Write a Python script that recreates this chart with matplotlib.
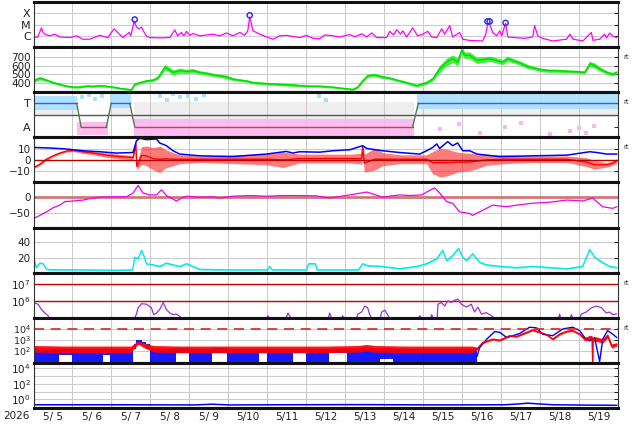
import numpy as np
import matplotlib
matplotlib.use('Agg')
import matplotlib.pyplot as plt
from matplotlib.ticker import FixedLocator, NullLocator, FixedFormatter

plt.rcParams['font.family'] = ['DejaVu Sans']

# time axis: hours since 2026-05-05 00:00
day_labels = ['5/ 5', '5/ 6', '5/ 7', '5/ 8', '5/ 9', '5/10', '5/11', '5/12',
              '5/13', '5/14', '5/15', '5/16', '5/17', '5/18', '5/19']

# --- X-ray flux (W/m2)
xray_t = [0, 2.6, 4.9, 5.7, 7.0, 10.0, 13.1, 16.2, 22.3, 26.6,
          30.3, 34.6, 40.8, 45.7, 49.6, 51.9, 55.0, 58.8, 59.9, 62.0,
          63.0, 64.4, 66.5, 67.9, 69.5, 71.6, 77.7, 83.9, 87.0, 88.8,
          91.1, 92.5, 94.2, 96.2, 98.2, 102.3, 110.5, 114.6, 118.8, 122.8,
          127.0, 130.0, 131.9, 133.1, 135.1, 139.3, 143.4, 147.5, 151.6, 155.7,
          163.9, 168.0, 172.1, 176.2, 179.3, 182.3, 188.5, 194.7, 197.7, 202.0,
          205.1, 208.2, 211.3, 217.4, 219.3, 221.7, 223.6, 226.0, 227.3, 229.7,
          233.4, 236.5, 239.6, 242.7, 245.1, 248.2, 251.3, 253.1, 256.2, 258.0,
          262.3, 264.2, 268.5, 276.5, 278.4, 279.6, 280.8, 282.7, 285.1, 287.0,
          288.2, 290.6, 292.0, 296.1, 302.3, 307.3, 308.5, 310.4, 313.4, 319.6,
          328.1, 330.2, 332.2, 338.2, 343.4, 344.4, 348.5, 351.6, 352.8, 354.7,
          356.4, 358.9]
xray_f = [8e-7, 7.5e-7, 5.0e-6, 2.3e-6, 1.4e-6, 1.0e-6, 1.4e-6, 8e-7, 7e-7, 1e-6,
          5e-7, 5e-7, 1.1e-6, 7e-7, 4.2e-6, 1.9e-6, 7e-7, 2e-6, 1e-6, 2.0e-5,
          8e-6, 4.2e-6, 5.8e-6, 2.3e-6, 1e-6, 7e-7, 6.6e-7, 7e-7, 3.3e-6, 1e-6,
          2e-6, 1e-6, 2.5e-6, 1.1e-6, 1.6e-6, 1e-6, 1.4e-6, 1e-6, 1.8e-6, 1e-6,
          2e-6, 1.1e-6, 2.8e-6, 4.6e-5, 2.8e-6, 1.4e-6, 8e-7, 5e-7, 1e-6, 1.1e-6,
          7e-7, 1.1e-6, 6e-7, 5.6e-7, 1.2e-6, 1.1e-6, 8e-7, 1.3e-6, 8e-7, 1.5e-6,
          8e-7, 1.8e-6, 7e-7, 7e-7, 2.5e-6, 1.2e-6, 3.5e-6, 1.4e-6, 2.8e-6, 8e-7,
          5e-6, 1e-6, 1.4e-6, 2.5e-6, 8e-7, 7e-7, 4.2e-6, 1.4e-6, 8e-6, 8e-7,
          2e-6, 5e-7, 3.9e-7, 3.5e-7, 1.4e-6, 1.15e-5, 1e-5, 2e-6, 1e-6, 2.8e-6,
          1e-6, 1.3e-5, 8e-7, 7e-7, 6e-7, 8e-7, 8e-6, 1e-6, 6e-7, 3.5e-7,
          5e-7, 1.4e-6, 5e-7, 3.5e-7, 2e-6, 4e-7, 5e-7, 1.4e-6, 6.6e-7, 1.8e-6,
          1e-6, 7e-7]
flare_t = [62.3, 133.1, 279.4, 280.8, 290.6]
flare_f = [2.8e-5, 6.6e-5, 1.9e-5, 1.9e-5, 1.4e-5]

# --- solar wind speed (km/s), with spread of the noisy trace
speed_t = [0, 3.9, 8.0, 12.1, 16.2, 20.3, 24.4, 28.5, 32.6, 36.7,
           40.8, 44.9, 49.0, 53.1, 57.2, 60.3, 62.3, 65.4, 69.5, 73.6,
           76.7, 78.8, 80.8, 82.8, 85.9, 90.0, 94.2, 98.2, 102.3, 106.5,
           110.5, 114.6, 118.8, 122.8, 127.0, 131.1, 135.1, 143.4, 151.6, 159.8,
           168.0, 176.2, 184.2, 190.3, 196.5, 199.6, 202.6, 205.7, 210.0, 214.3,
           219.3, 223.6, 229.7, 235.9, 242.0, 245.7, 250.0, 254.3, 258.0, 261.1,
           263.6, 265.4, 268.5, 273.0, 276.5, 280.8, 285.1, 288.8, 291.9, 296.1,
           300.5, 304.2, 308.5, 312.8, 317.7, 322.7, 328.3, 334.4, 339.3, 342.4,
           345.4, 348.5, 352.8, 356.5, 359.0]
speed_v = [420, 453, 429, 400, 380, 360, 348, 348, 360, 357,
           364, 357, 348, 333, 324, 316, 380, 400, 420, 429,
           460, 520, 580, 561, 520, 540, 532, 540, 520, 508,
           492, 480, 468, 441, 429, 420, 400, 388, 380, 372,
           360, 358, 348, 333, 320, 348, 420, 480, 492, 468,
           453, 429, 400, 365, 400, 441, 561, 640, 680, 640,
           780, 720, 720, 660, 668, 680, 660, 640, 680, 652,
           621, 588, 568, 549, 540, 540, 532, 528, 520, 621,
           600, 561, 520, 500, 520]
speed_s = [20, 20, 15, 15, 12, 12, 12, 12, 12, 12,
           12, 12, 12, 12, 12, 12, 15, 15, 15, 15,
           20, 30, 35, 30, 30, 30, 25, 25, 20, 20,
           20, 20, 20, 18, 15, 15, 15, 15, 15, 15,
           12, 12, 12, 12, 12, 15, 20, 20, 18, 18,
           15, 15, 15, 15, 20, 25, 40, 45, 45, 45,
           40, 40, 40, 35, 35, 30, 30, 30, 30, 25,
           25, 25, 20, 20, 20, 18, 18, 18, 18, 30,
           30, 25, 20, 20, 20]

# --- IMF sector (T = +1, A = -1)
sector_t = [0, 26.6, 29.3, 44.9, 47.8, 59.3, 62.3, 233.4, 236.9, 359.5]
sector_v = [1, 1, -1, -1, 1, 1, -1, -1, 1, 1]
toward_t0 = [0, 47, 236]
toward_t1 = [27, 60, 359.5]
toward_lo = [0.45, 0.6, 0.5]
toward_hi = [1.6, 1.8, 1.85]
away_t0 = [27, 62]
away_t1 = [46, 234]
away_lo = [-1.7, -1.75]
away_hi = [-0.55, -0.35]
mixed_t0 = [0, 47, 62, 236]
mixed_t1 = [27, 60, 234, 359.5]
mixed_lo = [0.0, 0.0, -0.6, -0.2]
mixed_hi = [0.6, 0.9, 1.1, 0.8]
lbdot_t = [30, 34, 38, 42, 78, 82, 86, 90, 95, 100, 105, 176, 180]
lbdot_v = [1.5, 1.7, 1.4, 1.6, 1.6, 1.3, 1.8, 1.5, 1.6, 1.4, 1.7, 1.6, 1.3]
pkdot_t = [250, 262, 275, 290, 300, 318, 330, 336, 340, 345]
pkdot_v = [-1.2, -0.8, -1.5, -1.0, -0.7, -1.6, -1.4, -1.1, -1.5, -0.9]

# --- IMF Bt / Bz (nT)
bt_t = [0, 10.0, 20.3, 30.5, 40.8, 51.1, 61.3, 63.4, 65.4, 69.5,
        75.7, 77.7, 81.8, 85.9, 90.0, 102.3, 122.7, 143.4, 155.7, 159.6,
        163.9, 176.2, 184.2, 194.7, 202.6, 205.1, 214.9, 225.4, 237.8, 242.0,
        245.7, 248.2, 250.0, 255.0, 258.0, 261.1, 264.2, 268.5, 273.0, 279.0,
        287.0, 307.3, 328.3, 342.4, 346.7, 352.8, 359.0]
bt_v = [11.3, 10.8, 9.9, 8.3, 7.4, 6.2, 6.7, 17.5, 19.6, 18.4,
        19.0, 15.4, 12.9, 8.3, 5.3, 3.7, 3.0, 5.3, 7.7, 6.2,
        7.4, 7.0, 8.3, 9.2, 12.9, 10.4, 8.3, 6.7, 5.3, 8.3,
        11.3, 14.5, 10.4, 16.6, 12.9, 15.4, 8.3, 8.3, 5.3, 4.3,
        3.0, 3.7, 4.3, 7.4, 6.7, 5.3, 5.3]
bz_t = [0, 3.9, 8.0, 12.1, 16.2, 20.3, 24.4, 30.5, 36.7, 44.9,
        53.1, 61.3, 63.0, 63.6, 66.5, 69.5, 73.6, 77.7, 81.8, 85.9,
        90.0, 102.3, 122.8, 143.4, 153.6, 163.9, 176.2, 194.7, 202.0, 202.6,
        203.6, 210.0, 214.9, 225.4, 242.0, 245.7, 250.0, 255.0, 261.1, 268.5,
        279.0, 290.0, 307.3, 328.3, 340.3, 345.4, 352.8, 356.5, 359.0]
bz_v = [-7.1, -4, 0.6, 3.7, 6.2, 8.0, 8.6, 7.4, 6.2, 4.3,
        3.0, 2.1, 14, -6, 4, 3.7, 1, 0.6, 1, 0.6,
        0.6, 0.6, 0.6, 0.6, 0, 1.2, 1.2, 1.2, 1, 12,
        -3, 0.6, 0.6, 0.6, 0.6, -2.5, -2.5, -2.5, -2, -2,
        0, 0.6, 0.6, 0.6, -2, -4.5, -4.5, -3, -1]
bz_s = [1, 1, 1, 1, 1, 1, 1, 1.5, 1.5, 2,
        2, 2, 2, 3, 8, 9, 10, 12, 8, 6,
        4, 3, 4, 5, 7, 4, 4, 4, 5, 3,
        8, 10, 6, 4, 4, 10, 13, 12, 9, 8,
        5, 4, 3, 3, 4, 4, 2, 2, 2]

# --- Dst (nT)
dst_t = [0, 3.9, 8.0, 12.1, 16.2, 19.3, 24.4, 30.5, 36.7, 40.8,
         49.0, 57.2, 61.3, 64.4, 67.4, 71.6, 75.7, 78.8, 81.8, 84.9,
         88.0, 91.1, 94.2, 102.3, 110.3, 114.6, 122.8, 133.1, 143.4, 153.6,
         163.9, 174.2, 182.3, 194.7, 205.1, 213.1, 214.9, 225.4, 231.6, 239.0,
         242.7, 247.0, 250.0, 254.3, 258.0, 262.3, 268.5, 270.3, 276.5, 282.7,
         291.3, 297.4, 307.3, 317.7, 328.3, 338.0, 344.2, 350.4, 356.5, 359.0]
dst_v = [-69, -59, -48, -35, -27, -16, -14, -11, -5, -2,
         -1, -1, 11, 35, 11, 5, 5, 21, 3, -5,
         -14, -5, 1, -2, -1, -5, 1, 3, 1, 3,
         3, 2, -5, 5, 14, 1, -2, 5, 3, 5,
         16, 27, 11, -16, -21, -48, -53, -59, -43, -27,
         -32, -27, -21, -18, -11, -14, -5, -32, -37, -32]

# --- cyan index (0-60)
cy_t = [0, 0.6, 1.6, 3.9, 5.9, 8.0, 12.1, 30, 50, 61.0,
        62.3, 64.4, 66.5, 67.9, 69.5, 73.6, 77.7, 81.8, 85.9, 90.0,
        94.2, 98.2, 102.3, 120, 144.0, 145.4, 147.0, 168, 169.5, 173.5,
        174.5, 200, 202.6, 205.7, 214.9, 225.4, 235.9, 242.0, 248.2, 251.9,
        254.3, 258.0, 261.7, 264.2, 266.5, 270.3, 274.6, 279.0, 287.0, 297.4,
        307.3, 317.7, 328.3, 338.0, 342.4, 345.4, 348.5, 351.6, 354.7, 359.0]
cy_v = [27.5, 16.4, 7.5, 13.3, 12.5, 5.3, 4.7, 4.5, 4.0, 4.5,
        20.8, 19, 29.7, 23, 12.5, 11, 9, 13.3, 11, 9,
        12.5, 9, 5.3, 4.5, 4.5, 9, 4.5, 4.5, 12.5, 12.5,
        4.5, 4.5, 12.5, 10, 9, 6, 9, 12.5, 19, 29.7,
        16.4, 23, 32, 20.8, 16.4, 25.3, 14.2, 11, 9, 7.5,
        9, 7.5, 6, 9, 30.8, 20.8, 16.4, 12.5, 9, 7.5]

# --- purple flux (log10), NaN = no data above the floor
pu_t = [0, 2.8, 4.9, 7.0, 9.0, 9.5, 30,
        62.3, 63.4, 64.4, 66.5, 69.5, 72.6, 74.0, 75.7, 77.7, 79.8,
        81.8, 83.9, 85.9, 88.0, 90.0, 91.0, 120,
        143.8, 144.4, 145.0, 150, 155.5, 156.7, 158.0, 170,
        181.5, 182.3, 183.5, 186, 189.8, 190.3, 190.8, 195,
        199.0, 199.6, 202.0, 203.9, 205.7, 207.0, 208.0, 211,
        213.5, 214.3, 216.2, 218.0, 219.0, 230,
        237.0, 237.8, 238.6, 241, 244.5, 245.1, 246.0, 247,
        248.5, 249.0, 251.1, 253.1, 255.1, 257.1, 259.3, 261.3, 263.4, 266.5,
        269.5, 271.5, 273.6, 275.7, 278.8, 281.9, 283.5, 300,
        323.3, 323.9, 324.5, 328, 330.5, 331.1, 331.8, 334,
        336.5, 337.2, 340.3, 343.4, 346.5, 349.6, 352.6, 354.6, 356.7, 358.8]
pu_v = [5.9, 5.8, 5.49, 5.28, 5.12, 5.0, np.nan,
        5.0, 5.22, 5.59, 5.83, 5.8, 5.59, 5.18, 5.28, 5.49, 5.9,
        5.49, 5.28, 5.18, 5.22, 5.08, 5.0, np.nan,
        5.0, 5.12, 5.0, np.nan, 5.0, 5.28, 5.05, np.nan,
        5.0, 5.28, 5.0, np.nan, 5.0, 5.12, 5.0, np.nan,
        5.0, 5.22, 5.34, 5.69, 5.59, 5.18, 5.0, np.nan,
        5.0, 5.34, 5.45, 5.18, 5.0, np.nan,
        5.0, 5.12, 5.0, np.nan, 5.0, 5.18, 5.0, np.nan,
        5.0, 5.8, 5.9, 5.69, 6.0, 5.9, 6.04, 6.1, 5.8, 5.63,
        5.8, 5.34, 5.63, 5.22, 5.3, 5.12, 5.0, np.nan,
        5.0, 5.22, 5.0, np.nan, 5.0, 5.18, 5.0, np.nan,
        5.05, 5.22, 5.34, 5.59, 5.69, 5.59, 5.28, 5.34, 5.18, 5.22]

# --- electron flux (log10): red trace
er_t = [0, 20, 40, 60, 62.3, 64.4, 68, 74, 90, 120,
        150, 180, 200, 205, 210, 230, 250, 270, 273.4, 276.5,
        282.7, 287.0, 293.1, 297.4, 303.6, 307.3, 311.6, 315.9, 319.6, 323.9,
        328.3, 331.9, 336.2, 339.3, 342.4, 343.8, 344.2, 344.6, 346.7, 350.4,
        353.4, 355.9, 359.0]
er_v = [2.2, 2.15, 2.15, 2.15, 2.5, 2.76, 2.5, 2.2, 2.15, 2.15,
        2.15, 2.15, 2.2, 2.3, 2.2, 2.15, 2.15, 2.15, 2.24, 2.76,
        3.07, 2.97, 3.38, 3.32, 3.69, 3.9, 3.69, 3.47, 3.07, 3.53,
        3.78, 3.84, 3.53, 3.07, 3.22, 3.2, 1.06, 3.1, 3.07, 2.91,
        3.38, 2.45, 2.6]
er_s = [0.3, 0.3, 0.3, 0.3, 0.2, 0.15, 0.2, 0.3, 0.3, 0.3,
        0.3, 0.3, 0.3, 0.3, 0.3, 0.3, 0.3, 0.3, 0.1, 0.08,
        0.08, 0.08, 0.08, 0.08, 0.08, 0.08, 0.08, 0.08, 0.08, 0.08,
        0.08, 0.08, 0.1, 0.15, 0.2, 0.2, 0.02, 0.2, 0.2, 0.2,
        0.2, 0.2, 0.15]
# blue trace: noisy part as bands (start, end, upper, lower), then smooth part
eb_t0 = [0, 16, 23.5, 43, 47, 62, 63.4, 66.5, 69.5, 71.5, 88, 96, 110, 119, 139, 144, 160, 168, 182, 193, 213, 221]
eb_t1 = [16, 23.5, 43, 47, 61, 63.4, 66.5, 69.5, 71.5, 88, 96, 110, 119, 139, 144, 160, 168, 182, 193, 213, 221, 273]
eb_hi = [2.1, 2.2, 2.2, 2.2, 2.2, 2.6, 2.95, 2.85, 2.6, 2.2, 2.3, 2.2, 2.3, 2.2, 2.2, 2.2, 2.2, 2.2, 2.2, 2.2, 2.3, 2.2]
eb_lo = [0.9, 1.6, 0.9, 1.6, 0.9, 2.2, 2.7, 2.6, 2.2, 0.9, 1.8, 0.9, 1.8, 0.9, 1.8, 0.9, 1.8, 0.9, 1.8, 0.9, 1.3, 0.9]
eb_t = [273.0, 274.6, 279.0, 283.9, 287.0, 291.3, 295.0, 299.3, 305.4, 309.7,
        313.4, 319.6, 325.8, 331.9, 336.2, 339.3, 342.4, 345.4, 346.7, 348.5,
        350.4, 353.4, 356.5, 359.0]
eb_v = [1.53, 2.3, 3.07, 3.75, 3.69, 3.22, 3.38, 3.59, 4.15, 4.09,
        3.53, 3.38, 3.99, 4.15, 3.84, 3.22, 2.91, 3.22, 2.3, 1.06,
        3.07, 3.84, 3.53, 3.22]

# --- bottom panel (flux)
p9_t = [0, 50, 100, 110, 120, 150, 200, 250, 290, 300, 304, 310, 320, 340, 359]
p9_v = [0.21, 0.21, 0.2, 0.25, 0.2, 0.21, 0.22, 0.2, 0.21, 0.28, 0.34, 0.28, 0.21, 0.19, 0.18]

# ------------------------------------------------------------------
W, H = 634, 424
fig = plt.figure(figsize=(W / 100, H / 100), dpi=100)
top_px, bot_px = 2, 408
ph = (bot_px - top_px) / 9
XMAX = 359.5
grid_c = '#cccccc'
txt_c = '#222222'

axes = []
for i in range(9):
    y0 = top_px + (i + 1) * ph
    ax = fig.add_axes([33.5 / W, 1 - y0 / H, 584 / W, ph / H])
    ax.set_xlim(0, XMAX)
    ax.xaxis.set_major_locator(FixedLocator(np.arange(24, XMAX, 24)))
    ax.xaxis.set_minor_locator(NullLocator())
    ax.tick_params(axis='x', which='both', length=0, labelbottom=False)
    ax.tick_params(axis='y', which='both', left=False, right=True, direction='in',
                   length=3, width=0.6, labelsize=7.5, labelcolor=txt_c, pad=2)
    ax.grid(axis='x', color=grid_c, lw=0.8)
    ax.grid(axis='y', color=grid_c, lw=0.8)
    ax.set_axisbelow(True)
    for s in ('top', 'bottom'):
        ax.spines[s].set_linewidth(2.2)
        ax.spines[s].set_color('#111111')
    for s in ('left', 'right'):
        ax.spines[s].set_linewidth(0.8)
        ax.spines[s].set_color('#333333')
    axes.append(ax)


def rt_label(ax):
    ax.text(1.01, 0.78, 'rt', transform=ax.transAxes, fontsize=5,
            color='#333333', va='center', ha='left')


def log_ticks(ax, exps, labeled, size=7.5):
    ax.set_yscale('log')
    ax.yaxis.set_major_locator(FixedLocator([10.0 ** e for e in exps]))
    ax.yaxis.set_minor_locator(NullLocator())
    ax.set_yticklabels(['$10^{%d}$' % e if e in labeled else '' for e in exps],
                       fontsize=size)


# panel 1: X-ray
ax = axes[0]
ax.set_yscale('log')
ax.set_ylim(1e-7, 1e-3)
ax.yaxis.set_major_locator(FixedLocator([1e-6, 1e-5, 1e-4]))
ax.yaxis.set_minor_locator(NullLocator())
ax.set_yticklabels(['C', 'M', 'X'], fontsize=8)
ax.plot(xray_t, xray_f, color='#ff00ff', lw=0.9)
ax.scatter(flare_t, flare_f, s=14, facecolors='none', edgecolors='#2222ff', lw=1, zorder=5)

# panel 2: speed
ax = axes[1]
ax.set_ylim(288, 816)
ax.set_yticks([400, 500, 600, 700])
sv = np.array(speed_v, float)
ss = np.array(speed_s, float)
ax.fill_between(speed_t, sv - ss, sv + ss, color='#22ee22', lw=0, alpha=0.85)
ax.plot(speed_t, sv, color='#00dd00', lw=1)
rt_label(ax)

# panel 3: sector
ax = axes[2]
ax.set_ylim(-1.9, 1.95)
ax.set_yticks([1, -1])
ax.set_yticklabels(['T', 'A'], fontsize=8)
ax.grid(axis='y', visible=False)
for t0, t1, lo, hi in zip(mixed_t0, mixed_t1, mixed_lo, mixed_hi):
    ax.fill_between([t0, t1], lo, hi, color='#c8c8c8', alpha=0.3, lw=0)
for t0, t1, lo, hi in zip(toward_t0, toward_t1, toward_lo, toward_hi):
    ax.fill_between([t0, t1], lo, hi, color='#a8e0ff', alpha=0.9, lw=0)
for t0, t1, lo, hi in zip(away_t0, away_t1, away_lo, away_hi):
    ax.fill_between([t0, t1], lo, hi, color='#f9b6f0', alpha=0.9, lw=0)
ax.scatter(lbdot_t, lbdot_v, s=7, marker='s', color='#a8e0ff', lw=0)
ax.scatter(pkdot_t, pkdot_v, s=7, marker='s', color='#f9b6f0', lw=0)
ax.axhline(0, color='#555555', lw=1)
for i in range(len(sector_t) - 1):
    a, b = sector_v[i], sector_v[i + 1]
    c = '#4455ee' if a == b == 1 else ('#ee3333' if a == b == -1 else '#557755')
    ax.plot(sector_t[i:i + 2], sector_v[i:i + 2], color=c, lw=1)
rt_label(ax)

# panel 4: IMF
ax = axes[3]
ax.set_ylim(-20.5, 20.5)
ax.set_yticks([10, 0, -10])
ax.set_yticklabels(['10', '0', '\u221210'])
bv = np.array(bz_v, float)
bs = np.array(bz_s, float)
ax.fill_between(bz_t, bv - bs, bv + bs, color='#ff2222', lw=0, alpha=0.6)
ax.plot(bz_t, bv, color='#ff0000', lw=1)
ax.plot(bt_t, bt_v, color='#0000ff', lw=1.1)
ax.axhline(0, color='#bb0000', lw=1)
rt_label(ax)

# panel 5: Dst
ax = axes[4]
ax.set_ylim(-97, 44)
ax.set_yticks([0, -50])
ax.set_yticklabels(['0', '\u221250'])
ax.axhline(0, color='#d07878', lw=2)
ax.plot(dst_t, dst_v, color='#ee00ee', lw=0.9)

# panel 6: cyan
ax = axes[5]
ax.set_ylim(1, 59)
ax.set_yticks([20, 40])
cv = np.array(cy_v, float)
ax.fill_between(cy_t, cv - 1.2, cv + 1.2, color='#33f0f0', lw=0, alpha=0.6)
ax.plot(cy_t, cv, color='#00e8e8', lw=1)

# panel 7: purple
ax = axes[6]
log_ticks(ax, [6, 7], [6, 7])
ax.set_ylim(10 ** 5.0, 10 ** 7.66)
ax.axhline(1e7, color='#cc0000', lw=1)
ax.axhline(1e6, color='#cc0000', lw=1)
ax.plot(pu_t, 10 ** np.array(pu_v, float), color='#9933cc', lw=0.9)
rt_label(ax)

# panel 8: electrons
ax = axes[7]
log_ticks(ax, [1, 2, 3, 4], [2, 3, 4], size=6.8)
ax.set_ylim(10 ** 0.93, 10 ** 5.0)
for t0, t1, hi, lo in zip(eb_t0, eb_t1, eb_hi, eb_lo):
    ax.fill_between([t0, t1], 10 ** lo, 10 ** hi, color='#0000ff', lw=0, alpha=0.9)
ax.plot(eb_t, 10 ** np.array(eb_v, float), color='#0000ff', lw=1)
rv = np.array(er_v, float)
rs = np.array(er_s, float)
ax.fill_between(er_t, 10 ** (rv - rs), 10 ** (rv + rs), color='#ff0000', lw=0, alpha=0.9)
ax.plot(er_t, 10 ** rv, color='#ff0000', lw=1)
ax.axhline(1e4, color='#dd2222', lw=1.2, dashes=(6, 4))
rt_label(ax)

# panel 9: bottom
ax = axes[8]
log_ticks(ax, [0, 1, 2, 3, 4], [0, 2, 4])
ax.set_ylim(10 ** -1.09, 10 ** 4.68)
ax.plot(p9_t, p9_v, color='#0000ff', lw=1.1)
ax.xaxis.set_minor_locator(FixedLocator(np.arange(12, XMAX, 24)))
ax.xaxis.set_minor_formatter(FixedFormatter(day_labels))
ax.tick_params(axis='x', which='minor', labelbottom=True, labelsize=7.5,
               labelcolor=txt_c, pad=3)
fig.text(16 / W, 1 - 416 / H, '2026', fontsize=7.5, color=txt_c, ha='center', va='center')

fig.savefig('out.png', dpi=100)
